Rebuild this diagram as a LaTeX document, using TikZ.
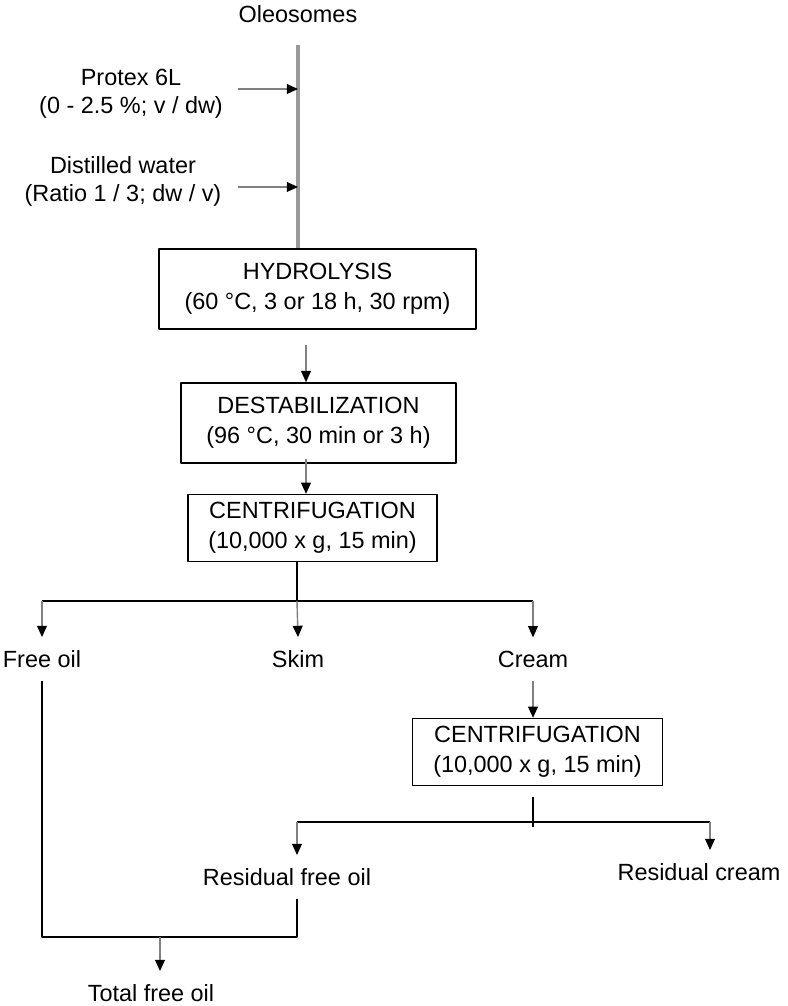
\documentclass[tikz,border=0pt]{standalone}
\usepackage{fontspec}
\setmainfont{Liberation Sans}
\usetikzlibrary{arrows.meta,positioning}

\begin{document}
\begin{tikzpicture}[x=0.015cm, y=-0.015cm, >={Triangle[black,length=4.8pt,width=4.2pt]},
    font=\fontsize{10}{12}\selectfont, line join=round,
    lbl/.style={align=center, inner sep=5.5pt},
    stage/.style={draw, line width=0.7pt, align=center, inner sep=0pt,
        font=\fontsize{10}{12.8}\selectfont},
    arr/.style={->, draw=black!50, line width=0.6pt},
    lin/.style={line width=0.6pt},
    feed/.style={draw=black!40, line width=1.3pt}]
    \useasboundingbox (0,0) rectangle (787,1006);
    % inputs
    \node[lbl] (oleo) at (298,14) {Oleosomes};
    \node[lbl] (protex) at (131,94) {Protex 6L\\(0 - 2.5 \%; v / dw)};
    \node[lbl] (water) at (123,181) {Distilled water\\(Ratio 1 / 3; dw / v)};
    % stages
    \node[stage, minimum width=4.755cm, minimum height=1.2cm] (hyd) at (317.5,289)
        {HYDROLYSIS\\(60 °C, 3 or 18 h, 30 rpm)};
    \node[stage, minimum width=4.125cm, minimum height=1.2cm] (des) at (318.5,423)
        {DESTABILIZATION\\(96 °C, 30 min or 3 h)};
    \node[stage, minimum width=3.735cm, minimum height=1cm] (cen) at (312.5,528)
        {CENTRIFUGATION\\(10,000 x g, 15 min)};
    \node[lbl] (free) at (42,659) {Free oil};
    \node[lbl] (skim) at (298,659) {Skim};
    \node[lbl] (cream) at (533,659) {Cream};
    \node[stage, minimum width=3.75cm, minimum height=1cm] (cen2) at (537.5,752)
        {CENTRIFUGATION\\(10,000 x g, 15 min)};
    \node[lbl] (resfree) at (287,877) {Residual free oil};
    \node[lbl] (rescream) at (699,872) {Residual cream};
    \node[lbl] (total) at (151,993) {Total free oil};
    % junctions
    \coordinate (feedtop) at (298,45);
    \coordinate (p1) at (238,89);
    \coordinate (w1) at (238,187);
    \coordinate (h1) at (306,345);
    \coordinate (split) at (297,601);
    \coordinate (split2) at (533,822);
    \coordinate (rfx) at (297,822);
    \coordinate (rcx) at (710,822);
    \coordinate (join) at (160,937);
    % connectors
    \draw[feed] (feedtop) -- (feedtop |- hyd.north);
    \draw[arr] (p1) -- (p1 -| feedtop);
    \draw[arr] (w1) -- (w1 -| feedtop);
    \draw[arr] (h1) -- (h1 |- des.north);
    \draw[arr] ([yshift=2pt]des.south -| h1) -- (cen.north -| h1);
    \draw[lin] (cen.south -| split) -- (split);
    \draw[lin] (split -| free) -- (split -| cream);
    \draw[arr] (split -| free) -- (free.north);
    \draw[arr] (split) -- (skim.north);
    \draw[arr] (split -| cream) -- (cream.north);
    \draw[arr] (cream.south) -- (cen2.north -| cream);
    \draw[lin] ([yshift=-4.5pt]cen2.south -| split2) -- ([yshift=-2pt]split2);
    \draw[lin] (rfx) -- (rcx);
    \draw[arr] (rfx) -- (rfx |- resfree.north);
    \draw[arr] (rcx) -- (rcx |- rescream.north);
    \draw[lin] (free.south) -- (free.south |- join) -- (join -| rfx) -- (rfx |- resfree.south);
    \draw[arr] (join) -- (join |- total.north);
\end{tikzpicture}
\end{document}
